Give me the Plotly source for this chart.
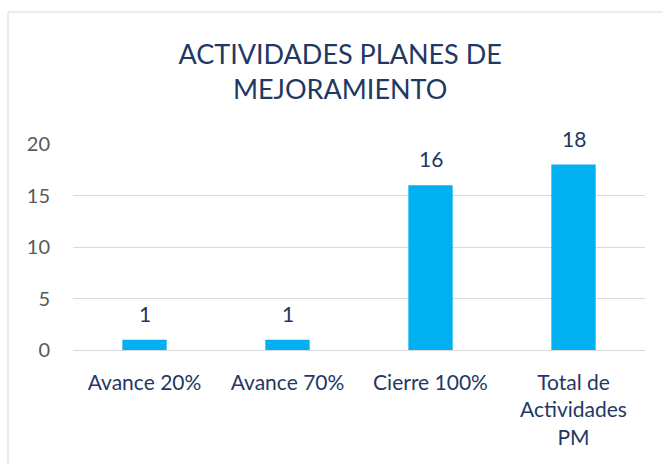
import plotly.graph_objects as go

categories = ["Avance 20%", "Avance 70%", "Cierre 100%", "Total de<br>Actividades<br>PM"]
values = [1, 1, 16, 18]
y_ticks = [0, 5, 10, 15, 20]

NAVY = "#1F3864"
BAR = "#00B0F0"
FONT = "Lato, Open Sans, sans-serif"

L, R, T, B = 73, 18, 144, 115
W, H = 663, 465
pw = W - L - R
ph = H - T - B

fig = go.Figure()
fig.add_trace(go.Bar(x=categories, y=values, marker=dict(color=BAR, line=dict(width=0)),
                     hoverinfo="skip"))

for c, v in zip(categories, values):
    fig.add_annotation(x=c, y=v, text=str(v), showarrow=False, yanchor="bottom",
                       yshift=12, font=dict(family=FONT, size=21, color=NAVY))

def px_x(p):
    return (p - L) / pw

def px_y(p):
    return (H - B - p) / ph

fig.add_shape(type="rect", xref="paper", yref="paper",
              x0=px_x(8), x1=px_x(680), y0=px_y(480), y1=px_y(12),
              line=dict(color="#D9D9D9", width=1), fillcolor="rgba(0,0,0,0)", layer="below")

fig.update_layout(
    width=W, height=H,
    margin=dict(l=L, r=R, t=T, b=B, pad=0),
    paper_bgcolor="white", plot_bgcolor="white",
    bargap=0.69,
    showlegend=False,
    title=dict(text="ACTIVIDADES PLANES DE<br>MEJORAMIENTO", x=0.513, xanchor="center",
               y=1 - 64 / H, yanchor="middle",
               font=dict(family=FONT, size=27, color=NAVY)),
    xaxis=dict(showgrid=False, showline=False, zeroline=False, ticks="",
               tickfont=dict(family=FONT, size=21, color=NAVY),
               ticklabelstandoff=18),
    yaxis=dict(range=[0, 20], tickvals=y_ticks, showgrid=True, gridcolor="#D9D9D9",
               gridwidth=1, zeroline=True, zerolinecolor="#D9D9D9", zerolinewidth=1,
               showline=False, ticks="", tickfont=dict(family=FONT, size=20, color="#595959"),
               ticklabelstandoff=22),
)

fig.write_html("out.html", config={"displayModeBar": False},
               post_script="document.body.style.margin='0';")
